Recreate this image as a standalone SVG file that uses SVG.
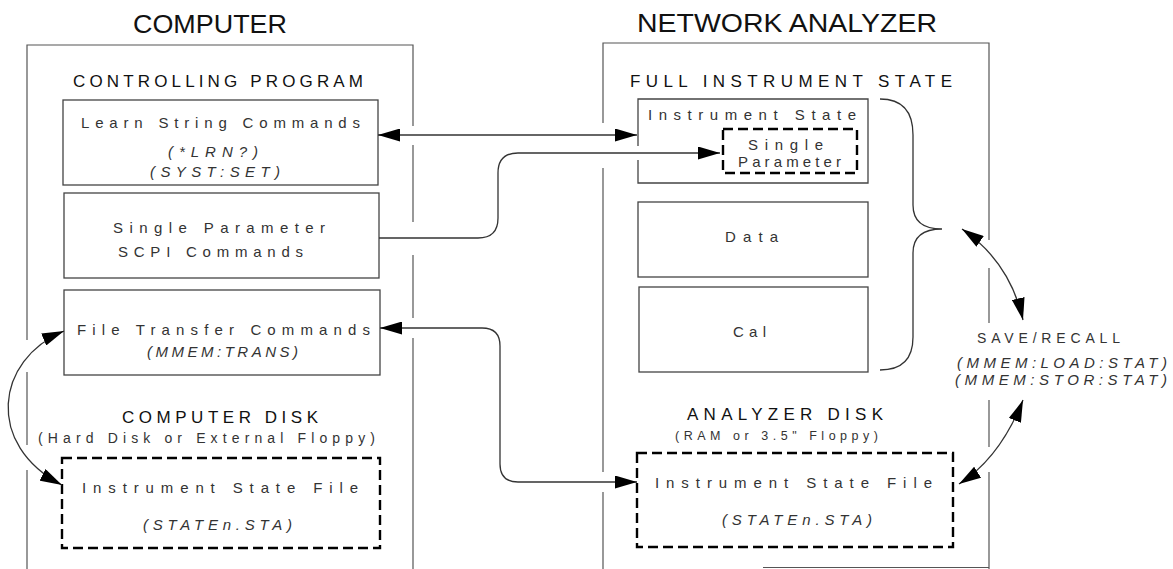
<svg xmlns="http://www.w3.org/2000/svg" width="1173" height="569" viewBox="0 0 1173 569">
<style>
.frame{fill:none;stroke:#555;stroke-width:1.2}
.box{fill:none;stroke:#444;stroke-width:1.3}
.dash{fill:none;stroke:#000;stroke-width:2.4;stroke-dasharray:10 5}
.conn{fill:none;stroke:#333;stroke-width:1.3}
text{font-family:"Liberation Sans",Arial,sans-serif}
.title{font-size:25px;fill:#111}
.head{font-size:17px;fill:#111}
.t{font-size:15px;fill:#333}
.it{font-size:15px;fill:#333;font-style:italic}
.sm{font-size:14px;fill:#333}
.xs{font-size:12.5px;fill:#333}
</style>
<defs>
<marker id="ah" viewBox="0 0 22 13" refX="22" refY="6.5" markerWidth="22" markerHeight="13" markerUnits="userSpaceOnUse" orient="auto-start-reverse">
<path d="M0,0 L22,6.5 L0,13 Z" fill="#000"/>
</marker>
</defs>
<rect width="1173" height="569" fill="#fff"/>

<g id="computer">
<text class="title" x="133" y="33" textLength="154" lengthAdjust="spacingAndGlyphs">COMPUTER</text>
<path class="frame" d="M27,569 V470 M27,445 V372 M27,340 V45 H413 V126 M413,145 V222 M413,255 V318 M413,338 V569"/>
<text class="head" x="73" y="87" textLength="290" lengthAdjust="spacing">CONTROLLING PROGRAM</text>
</g>

<g id="learn-string">
<rect class="box" x="63" y="100" width="315" height="85"/>
<text class="t" x="81" y="128" textLength="279" lengthAdjust="spacing">Learn String Commands</text>
<text class="it" x="168" y="157" textLength="90" lengthAdjust="spacing">(*LRN?)</text>
<text class="it" x="150" y="177" textLength="130" lengthAdjust="spacing">(SYST:SET)</text>
</g>

<g id="single-parameter-scpi">
<rect class="box" x="64" y="193" width="315" height="85"/>
<text class="t" x="113" y="233" textLength="212" lengthAdjust="spacing">Single Parameter</text>
<text class="t" x="118" y="257" textLength="185" lengthAdjust="spacing">SCPI Commands</text>
</g>

<g id="file-transfer">
<rect class="box" x="64" y="290" width="316" height="85"/>
<text class="t" x="77" y="335" textLength="293" lengthAdjust="spacing">File Transfer Commands</text>
<text class="it" x="147" y="357" textLength="151" lengthAdjust="spacing">(MMEM:TRANS)</text>
</g>

<g id="computer-disk">
<text class="head" x="122" y="423" textLength="196" lengthAdjust="spacing" fill="#222">COMPUTER DISK</text>
<text class="sm" x="38" y="443" textLength="337" lengthAdjust="spacing">(Hard Disk or External Floppy)</text>
<rect class="dash" x="62" y="458" width="318" height="90"/>
<text class="t" x="82" y="493" textLength="276" lengthAdjust="spacing">Instrument State File</text>
<text class="it" x="143" y="530" textLength="149" lengthAdjust="spacing">(STATEn.STA)</text>
</g>

<g id="network-analyzer">
<text class="title" x="637" y="32" textLength="300" lengthAdjust="spacingAndGlyphs">NETWORK ANALYZER</text>
<path class="frame" d="M603,569 V492 M603,472 V168 M603,123 V43 H989 V240 M989,268 V323 M989,400 V447 M989,472 V569"/>
<path class="frame" stroke="#999" d="M763,567.5 H989"/>
<text class="head" x="630" y="87" textLength="322" lengthAdjust="spacing">FULL INSTRUMENT STATE</text>
</g>

<g id="instrument-state">
<path class="box" d="M638,146 V99 H868 V183 H638 V160"/>
<text class="t" x="648" y="120" textLength="208" lengthAdjust="spacing">Instrument State</text>
</g>

<g id="single-parameter">
<rect class="dash" x="723" y="129" width="134" height="44"/>
<text class="t" x="748" y="150" textLength="75" lengthAdjust="spacing">Single</text>
<text class="t" x="738" y="167" textLength="103" lengthAdjust="spacing">Parameter</text>
</g>

<g id="data">
<rect class="box" x="638" y="202" width="230" height="75"/>
<text class="t" x="725" y="242" textLength="53" lengthAdjust="spacing">Data</text>
</g>

<g id="cal">
<rect class="box" x="639" y="287" width="229" height="85"/>
<text class="t" x="733" y="337" textLength="33" lengthAdjust="spacing">Cal</text>
</g>

<g id="brace">
<path class="conn" d="M880,99 Q913,99 913,135 V205 Q913,229 942,229 Q913,229 913,253 V337 Q913,370 880,370"/>
</g>

<g id="save-recall">
<text class="sm" x="977" y="343" textLength="143" lengthAdjust="spacing" fill="#222" font-size="16">SAVE/RECALL</text>
<text class="it" x="957" y="368" textLength="210" lengthAdjust="spacing">(MMEM:LOAD:STAT)</text>
<text class="it" x="955" y="385" textLength="212" lengthAdjust="spacing">(MMEM:STOR:STAT)</text>
</g>

<g id="analyzer-disk">
<text class="head" x="687" y="420" textLength="196" lengthAdjust="spacing" fill="#222">ANALYZER DISK</text>
<text class="xs" x="675" y="440" textLength="203" lengthAdjust="spacing">(RAM or 3.5" Floppy)</text>
<rect class="dash" x="637" y="453" width="316" height="94"/>
<text class="t" x="655" y="488" textLength="277" lengthAdjust="spacing">Instrument State File</text>
<text class="it" x="722" y="525" textLength="150" lengthAdjust="spacing">(STATEn.STA)</text>
</g>

<g id="connectors">
<path class="conn" d="M378,135 H637" marker-start="url(#ah)" marker-end="url(#ah)"/>
<path class="conn" d="M379,238 H478 Q498,238 498,218 V173 Q498,153 518,153 H720" marker-end="url(#ah)"/>
<path class="conn" d="M380,328 H482 Q500,328 500,346 V464 Q500,482 518,482 H637" marker-start="url(#ah)" marker-end="url(#ah)"/>
<path class="conn" d="M64,331 C-5,360 -15,445 62,485" marker-start="url(#ah)" marker-end="url(#ah)"/>
<path class="conn" d="M962,229 Q1010,262 1023,320" marker-start="url(#ah)" marker-end="url(#ah)"/>
<path class="conn" d="M1023,400 Q1000,458 959,484" marker-start="url(#ah)" marker-end="url(#ah)"/>
</g>
</svg>
